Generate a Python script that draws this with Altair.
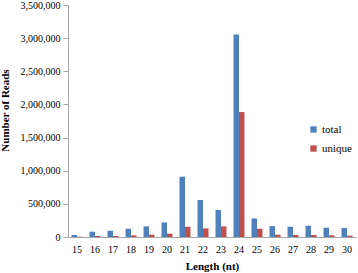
import altair as alt
import pandas as pd

lengths = [15, 16, 17, 18, 19, 20, 21, 22, 23, 24, 25, 26, 27, 28, 29, 30]
total = [30000, 80000, 95000, 125000, 160000, 220000, 910000, 558000, 407000,
         3055000, 280000, 165000, 155000, 170000, 140000, 135000]
unique = [5000, 15000, 15000, 25000, 35000, 50000, 155000, 130000, 160000,
          1885000, 125000, 35000, 30000, 30000, 25000, 20000]
series = ["total", "unique"]
colors = ["#4F81BD", "#C0504D"]
y_ticks = [0, 500000, 1000000, 1500000, 2000000, 2500000, 3000000, 3500000]

rows = []
for i, L in enumerate(lengths):
    rows.append({"Length": L, "series": "total", "value": total[i]})
    rows.append({"Length": L, "series": "unique", "value": unique[i]})
df = pd.DataFrame(rows)

font = "Liberation Serif"

chart = alt.Chart(df).mark_bar().encode(
    x=alt.X("Length:O",
            scale=alt.Scale(paddingInner=0.39, paddingOuter=0.195),
            axis=alt.Axis(title="Length (nt)", labelAngle=0, ticks=False,
                          labelPadding=7, titlePadding=6)),
    xOffset=alt.XOffset("series:N", sort=series),
    y=alt.Y("value:Q",
            scale=alt.Scale(domain=[0, 3500000], nice=False),
            axis=alt.Axis(title="Number of Reads", values=y_ticks, format=",d",
                          grid=False, tickSize=5, labelPadding=3,
                          titleX=-63, titleY=105, titleBaseline="middle")),
    color=alt.Color("series:N",
                    scale=alt.Scale(domain=series, range=colors),
                    legend=alt.Legend(title=None, orient="none", legendX=240,
                                      legendY=119, symbolType="square",
                                      symbolSize=40, symbolStrokeWidth=0,
                                      rowPadding=7, labelOffset=3)),
).properties(
    width=288,
    height=232,
    autosize=alt.AutoSizeParams(type="none"),
    padding={"left": 68, "top": 5, "right": 2, "bottom": 36},
).configure(
    font=font, background="white"
).configure_view(
    stroke=None
).configure_axis(
    labelFont=font, labelFontSize=10, labelColor="#000",
    titleFont=font, titleFontSize=11, titleFontWeight="bold", titleColor="#000",
    domainColor="#a6a6a6", tickColor="#a6a6a6",
).configure_legend(
    labelFont=font, labelFontSize=11, labelColor="#000",
)

chart.save("out.html", embed_options={"renderer": "svg", "actions": False})
